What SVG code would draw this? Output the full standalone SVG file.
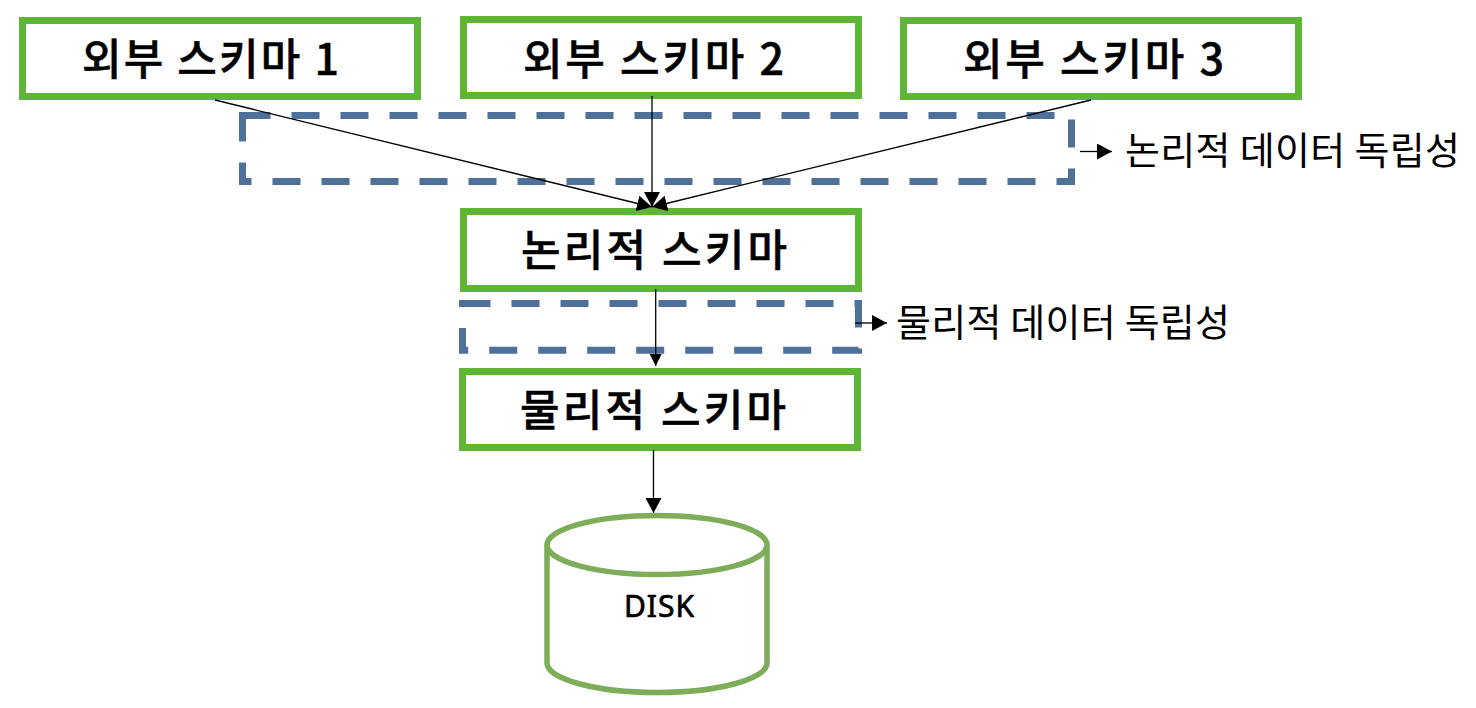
<svg xmlns="http://www.w3.org/2000/svg" width="1476" height="708" viewBox="0 0 1476 708">
<style>
.box{fill:#fff;stroke:#5fb636;stroke-width:7}
.dash{fill:none;stroke:#4f7099;stroke-width:7;stroke-dasharray:28 21}
.title{font-family:"Noto Sans CJK KR","Noto Sans",sans-serif;font-size:43px;font-weight:500;fill:#000;stroke:#000;stroke-width:.5;text-anchor:start}
.note{font-family:"Noto Sans CJK KR","Noto Sans",sans-serif;font-size:38px;font-weight:400;fill:#000;text-anchor:start}
.disk{font-family:"Noto Sans","Open Sans",sans-serif;font-size:30px;font-weight:400;fill:#000;stroke:#000;stroke-width:.7;text-anchor:start}
.cyl{fill:#fff;stroke:#7ead59;stroke-width:5.5}
.c{fill:none;stroke:#000;stroke-width:1.3}
</style>
<defs>
<marker id="a" markerUnits="userSpaceOnUse" markerWidth="16" markerHeight="16" refX="15" refY="8" orient="auto"><path d="M0 0L15 8L0 16Z" fill="#000"/></marker>
<marker id="s" markerUnits="userSpaceOnUse" markerWidth="13" markerHeight="13" refX="12" refY="6" orient="auto"><path d="M0 0L12 6L0 12Z" fill="#000"/></marker>
</defs>
<g id="external-1"><rect class="box" x="22.5" y="20.500" width="395" height="76"/><text class="title" x="82" y="75" textLength="257">외부 스키마 1</text></g>
<g id="external-2"><rect class="box" x="463.5" y="19.500" width="395" height="76"/><text class="title" x="523" y="75" textLength="261">외부 스키마 2</text></g>
<g id="external-3"><rect class="box" x="903.500" y="20.500" width="395" height="76"/><text class="title" x="963" y="75" textLength="261">외부 스키마 3</text></g>
<g id="logical-independence"><path class="dash" d="M242.5 115.500H1071.500V181.500H242.5Z"/><text class="note" x="1125" y="164" textLength="335">논리적 데이터 독립성</text></g>
<g id="logical"><rect class="box" x="463.5" y="211.500" width="395" height="77"/><text class="title" x="521" y="266" textLength="266">논리적 스키마</text></g>
<g id="physical-independence"><path class="dash" d="M462.5 303.500H858.500V350.200H462.5Z"/><text class="note" x="896" y="336" textLength="334">물리적 데이터 독립성</text></g>
<g id="physical"><rect class="box" x="462.5" y="371.500" width="395" height="76"/><text class="title" x="520" y="426" textLength="266">물리적 스키마</text></g>
<g id="disk"><path class="cyl" d="M547 545V663C547 679 596 692.500 657 692.500S767 679 767 663V545"/><ellipse class="cyl" cx="657" cy="545" rx="110" ry="29.500"/><text class="disk" x="624" y="617" textLength="70">DISK</text></g>
<g id="connectors">
<path class="c" d="M215 100L652 207" marker-end="url(#a)"/>
<path class="c" d="M1091 100L652 207" marker-end="url(#a)"/>
<path class="c" d="M652 96V207" marker-end="url(#a)"/>
<path class="c" d="M655.700 289V366" marker-end="url(#s)"/>
<path class="c" d="M653.500 450V513" marker-end="url(#a)"/>
<path class="c" d="M1080 151.500H1112" marker-end="url(#a)"/>
<path class="c" d="M855 323H887" marker-end="url(#a)"/>
</g>
</svg>
